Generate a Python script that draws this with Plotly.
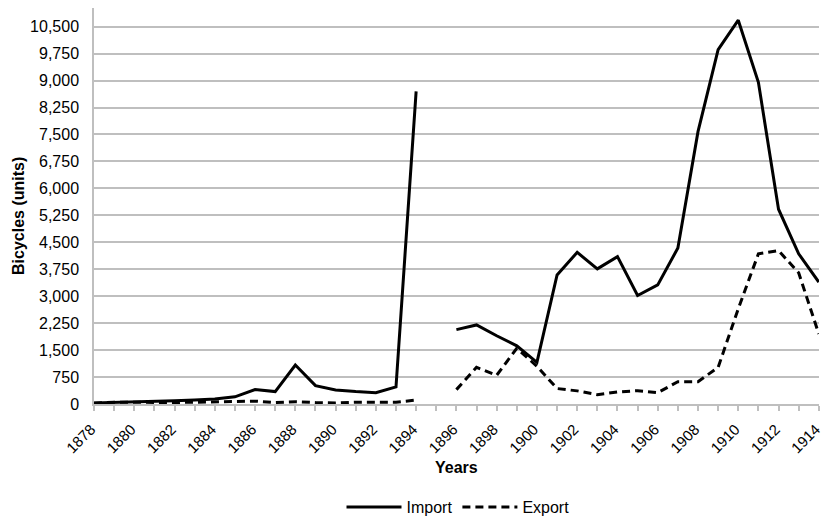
import plotly.graph_objects as go

years = list(range(1878, 1915))
imports = [30, 40, 50, 60, 90, 110, 140, 200, 400, 345, 1085, 510, 390, 345, 315, 475, 8700, None,
           2070, 2200, 1900, 1620, 1160, 3590, 4220, 3760, 4100, 3020, 3315, 4340, 7580, 9860, 10680,
           8950, 5420, 4180, 3390]
exports = [20, 50, 50, 40, 40, 50, 60, 60, 80, 40, 65, 40, 30, 50, 50, 50, 110, None,
           400, 1020, 800, 1550, 1050, 430, 365, 260, 335, 370, 315, 620, 620, 1020, 2650,
           4180, 4270, 3650, 1950]
y_ticks = list(range(0, 10501, 750))

FONT = "Liberation Sans, Arial, sans-serif"
GRID = "#BFBFBF"
L, R, T, B = 94, 4, 8, 114
W, H = 823, 518
plot_w = W - L - R
plot_h = H - T - B


def px_x(x):
    return (x - L) / plot_w


def px_y(y):
    return (H - B - y) / plot_h


fig = go.Figure()
fig.add_trace(go.Scatter(x=years, y=imports, name="Import", mode="lines",
                         line=dict(color="black", width=3), connectgaps=False))
fig.add_trace(go.Scatter(x=years, y=exports, name="Export", mode="lines",
                         line=dict(color="black", width=3, dash="8px,5px"), connectgaps=False))

fig.update_layout(
    width=W, height=H,
    margin=dict(l=L, r=R, t=T, b=B, autoexpand=False),
    plot_bgcolor="white", paper_bgcolor="white",
    font=dict(family=FONT, size=16, color="black"),
    showlegend=True,
    legend=dict(orientation="h", x=px_x(458), xanchor="center", y=px_y(507), yanchor="middle",
                font=dict(size=16), itemwidth=55, tracegroupgap=0),
    xaxis=dict(range=[1878, 1914.01], tickmode="array", tickvals=years[::2],
               ticktext=[str(y) for y in years[::2]], tickangle=-45,
               ticks="outside", ticklen=5, tickcolor=GRID, tickwidth=1.5,
               minor=dict(tickvals=years, ticks="outside", ticklen=5, tickcolor=GRID, tickwidth=1.5),
               showline=True, linecolor=GRID, linewidth=1.5, showgrid=False, zeroline=False,
               tickfont=dict(size=15), automargin=False, ticklabeloverflow="allow",
               ticklabelstandoff=4, ticklabelshift=-3),
    yaxis=dict(range=[0, 11020], tickmode="array", tickvals=y_ticks,
               ticktext=[f"{v:,}" for v in y_ticks], showline=True, linecolor=GRID, linewidth=1.5,
               showgrid=True, gridcolor=GRID, gridwidth=1.5, zeroline=False,
               ticks="", ticklabelstandoff=10, tickfont=dict(size=16), automargin=False),
    annotations=[
        dict(text="<b>Bicycles (units)</b>", textangle=-90, x=px_x(18), xref="paper",
             y=px_y(216), yref="paper", showarrow=False, font=dict(size=16),
             xanchor="center", yanchor="middle"),
        dict(text="<b>Years</b>", x=px_x(456), xref="paper", y=px_y(467), yref="paper",
             showarrow=False, font=dict(size=16), xanchor="center", yanchor="middle"),
    ],
)

fig.write_html("out.html", config={"displayModeBar": False},
               post_script="document.body.style.margin='0px';")
